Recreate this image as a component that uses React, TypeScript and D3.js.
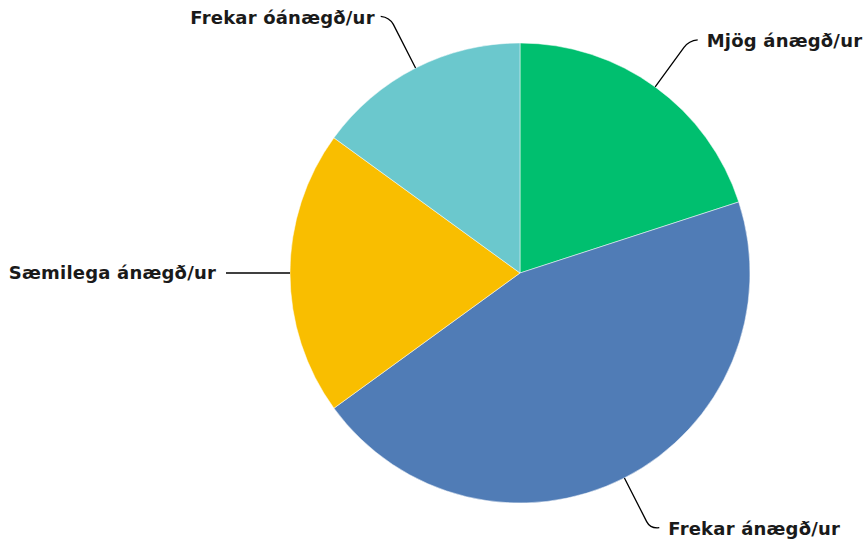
import React from 'react';
import * as d3 from 'd3';

// survey answers, clockwise from 12 o'clock
const categories = ['Mjög ánægð/ur', 'Frekar ánægð/ur', 'Sæmilega ánægð/ur', 'Frekar óánægð/ur'];
const values = [20, 45, 20, 15];
const colors = ['#00BF6F', '#507CB6', '#F9BE00', '#6BC8CD'];

const width = 868;
const height = 544;
const cx = 520;
const cy = 273;
const radius = 230;
const elbowRadius = 287;

export default function App() {
  const pie = d3.pie<number>().sort(null).value((d) => d);
  const arcs = pie(values);
  const arc = d3.arc<d3.PieArcDatum<number>>().innerRadius(0).outerRadius(radius);

  const polar = (r: number, a: number): [number, number] => [Math.sin(a) * r, -Math.cos(a) * r];

  return (
    <svg
      width={width}
      height={height}
      style={{ position: 'absolute', left: 0, top: 0, background: '#fff' }}
      fontFamily="'DejaVu Sans', sans-serif"
    >
      <g transform={`translate(${cx},${cy})`}>
        {arcs.map((a, i) => (
          <path key={i} d={arc(a) || ''} fill={colors[i]} stroke="#fff" strokeWidth={0.5} />
        ))}
        {arcs.map((a, i) => {
          const mid = (a.startAngle + a.endAngle) / 2;
          const [x0, y0] = polar(radius, mid);
          const [ex, ey] = polar(elbowRadius, mid);
          const [bx, by] = polar(elbowRadius - 8, mid);
          const right = Math.sin(mid) > 0;
          const dir = right ? 1 : -1;
          const horizontal = Math.abs(Math.cos(mid)) < 0.05;
          const tx = ex + dir * 9;
          const d = horizontal
            ? `M${x0},${y0}L${ex + dir * 7},${ey}`
            : `M${x0},${y0}L${bx},${by}Q${ex},${ey} ${tx},${ey - 1}`;
          const labelX = horizontal ? ex + dir * 17 : tx + dir * (right ? 9 : 6);
          return (
            <g key={'l' + i}>
              <path d={d} fill="none" stroke="#000" strokeWidth={1.3} />
              <text
                x={labelX}
                y={ey}
                dy="0.35em"
                textAnchor={right ? 'start' : 'end'}
                fontSize={18}
                fontWeight={700}
                letterSpacing={0.2}
                fill="#1a1a1a"
              >
                {categories[i]}
              </text>
            </g>
          );
        })}
      </g>
    </svg>
  );
}
